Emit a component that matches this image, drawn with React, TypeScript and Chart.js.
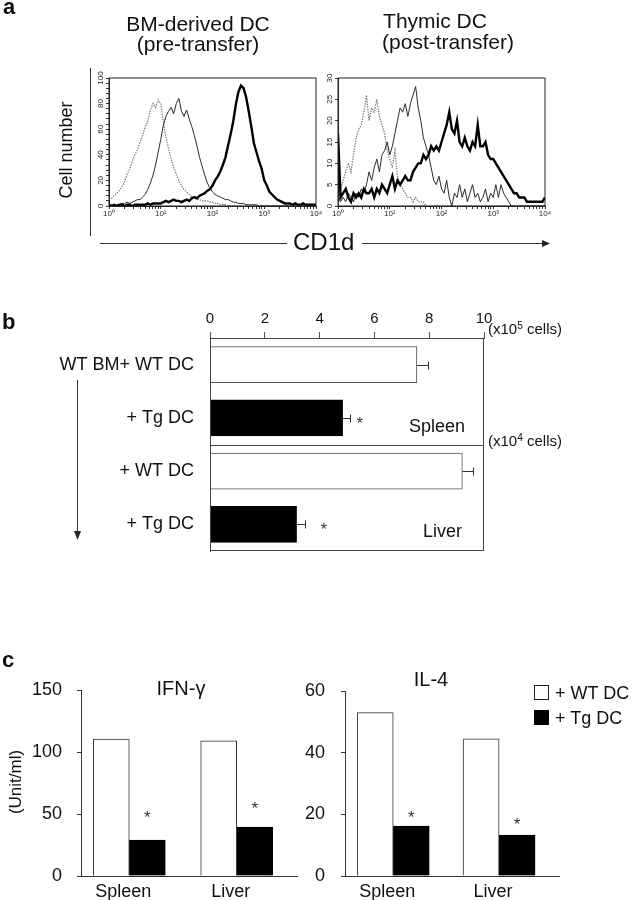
import React, { useEffect, useRef } from 'react';
import { Chart, registerables } from 'chart.js';

Chart.register(...registerables);

const FONT = '"Liberation Sans", Arial, Helvetica, sans-serif';
Chart.defaults.font.family = FONT;
Chart.defaults.color = '#111';

// ---------------- Panel a: CD1d histograms ----------------
const HIST_X = [0, 0.05, 0.1, 0.15, 0.2, 0.25, 0.3, 0.35, 0.4, 0.45, 0.5, 0.55, 0.6, 0.65, 0.7, 0.75, 0.8, 0.85, 0.9, 0.95,
  1, 1.05, 1.1, 1.15, 1.2, 1.25, 1.3, 1.35, 1.4, 1.45, 1.5, 1.55, 1.6, 1.65, 1.7, 1.75, 1.8, 1.85, 1.9, 1.95,
  2, 2.05, 2.1, 2.15, 2.2, 2.25, 2.3, 2.35, 2.4, 2.45, 2.5, 2.55, 2.6, 2.65, 2.7, 2.75, 2.8, 2.85, 2.9, 2.95,
  3, 3.05, 3.1, 3.15, 3.2, 3.25, 3.3, 3.35, 3.4, 3.45, 3.5, 3.55, 3.6, 3.65, 3.7, 3.75, 3.8, 3.85, 3.9, 3.95, 4];
const DECADE_LABELS = ['10\u2070', '10\u00b9', '10\u00b2', '10\u00b3', '10\u2074'];
const BM_Y_LABELS = [0, 20, 40, 60, 80, 100];
const TH_Y_LABELS = [0, 5, 10, 15, 20, 25, 30];

const BM_ISOTYPE = [5, 6, 8, 10, 12, 15, 19, 25, 29, 35,
  40, 44, 50, 55, 62, 66, 75, 80, 77, 83,
  80, 66, 54, 45, 37, 30, 25, 20, 16, 13,
  11, 9, 7, 6, 5, 5, 4, 4, 4, 3,
  3, 2, 2, 1, 1, 1, 0, 0, 0, 0,
  0, 0, 0, 0, 0, 0, 0, 0, 0, 0,
  0, 0, 0, 0, 0, 0, 0, 0, 0, 0,
  0, 0, 0, 0, 0, 0, 0, 0, 0, 0,
  0];
const BM_WT = [0, 1, 0, 1, 1, 2, 2, 3, 2, 3,
  4, 5, 5, 7, 9, 13, 18, 24, 32, 42,
  52, 63, 70, 74, 77, 72, 80, 84, 74, 70,
  75, 68, 62, 55, 47, 38, 31, 24, 18, 14,
  11, 9, 8, 7, 6, 5, 5, 4, 3, 3,
  2, 2, 2, 1, 1, 1, 1, 1, 0, 0,
  0, 0, 0, 0, 0, 0, 0, 0, 0, 0,
  0, 0, 0, 0, 0, 0, 0, 0, 0, 0,
  0];
const BM_TG = [1, 0, 1, 0, 1, 1, 0, 1, 1, 0,
  1, 1, 1, 1, 1, 2, 1, 2, 2, 2,
  2, 3, 4, 3, 4, 5, 4, 4, 3, 4,
  5, 4, 6, 7, 6, 8, 9, 10, 12, 13,
  16, 20, 23, 27, 32, 38, 47, 56, 66, 79,
  89, 94, 92, 85, 74, 62, 49, 42, 35, 29,
  20, 16, 11, 9, 7, 5, 4, 3, 2, 2,
  2, 1, 2, 1, 1, 2, 1, 1, 1, 1,
  1];

const TH_ISOTYPE = [0, 4, 6, 8, 10, 8, 12, 16, 18, 19,
  22, 26, 20, 23, 22, 25, 21, 19, 17, 13,
  11, 9, 13, 7, 5, 4, 3, 2, 2, 1,
  2, 1, 1, 1, 0, 0, 0, 0, 0, 0,
  0, 0, 0, 0, 0, 0, 0, 0, 0, 0,
  0, 0, 0, 0, 0, 0, 0, 0, 0, 0,
  0, 0, 0, 0, 0, 0, 0, 0, 0, 0,
  0, 0, 0, 0, 0, 0, 0, 0, 0, 0,
  0];
const TH_WT = [2, 1, 2, 1, 3, 2, 1, 3, 2, 4,
  3, 5, 8, 6, 9, 11, 8, 12, 13, 15,
  12, 14, 17, 20, 23, 22, 24, 21, 24, 26,
  28, 23, 20, 16, 14, 12, 9, 6, 5, 7,
  4, 3, 6, 2, 0, 3, 2, 5, 2, 4,
  1, 3, 5, 2, 3, 1, 2, 4, 1, 3,
  2, 5, 2, 5, 3, 2, 1, 0, 0, 0,
  0, 0, 0, 0, 0, 0, 0, 0, 0, 0,
  0];
const TH_TG = [17, 2, 3, 4, 2, 1, 3, 2, 3, 2,
  4, 3, 3, 4, 2, 4, 3, 5, 4, 3,
  5, 7, 4, 6, 5, 6, 7, 6, 6, 8,
  9, 10, 10, 12, 11, 12, 14, 13, 14, 13,
  15, 17, 19, 22, 18, 17, 20, 15, 14, 16,
  14, 13, 15, 14, 19, 14, 14, 15, 12, 11,
  11, 10, 9, 8, 7, 6, 5, 4, 3, 3,
  2, 2, 2, 1, 1, 1, 1, 1, 1, 1,
  2];

// ---------------- Panel b: cell numbers ----------------
const B_ROWS = ['WT BM+ WT DC', '+ Tg DC', '+ WT DC', '+ Tg DC'];
const B_GROUP = ['WT', 'Tg', 'WT', 'Tg'];
const B_VALUES = [7.55, 4.84, 9.21, 3.16];
const B_ERRORS = [0.4, 0.27, 0.39, 0.3];
const B_STARS: (number | null)[] = [null, 5.47, null, 4.16];
const B_TICKS = [0, 2, 4, 6, 8, 10];

// ---------------- Panel c: cytokines ----------------
const C_SITES = ['Spleen', 'Liver'];
const IFN_WT = [110.5, 109];
const IFN_TG = [29, 39.5];
const IFN_STARS = [51, 58];
const IFN_TICKS = [0, 50, 100, 150];
const IL4_WT = [53, 44.5];
const IL4_TG = [16.2, 13.3];
const IL4_STARS = [20.5, 18.1];
const IL4_TICKS = [0, 20, 40, 60];

// ---------------- helpers ----------------
const zeroPad = (s: any) => { s.paddingLeft = 0; s.paddingRight = 0; s.paddingTop = 0; s.paddingBottom = 0; };
const fixW = (w: number) => (s: any) => { s.width = w; zeroPad(s); };
const fixH = (h: number) => (s: any) => { s.height = h; zeroPad(s); };

const LOG_TICKS: number[] = [];
for (let d = 0; d < 4; d++) for (let k = 1; k < 10; k++) LOG_TICKS.push(d + Math.log10(k));
LOG_TICKS.push(4);

function drawStar(ctx: CanvasRenderingContext2D, x: number, y: number, size: number) {
  ctx.save();
  ctx.font = `${size}px ${FONT}`;
  ctx.fillStyle = '#333';
  ctx.textAlign = 'center';
  ctx.textBaseline = 'alphabetic';
  ctx.fillText('*', x, y + 0.573 * size);
  ctx.restore();
}

const facsPlugin = (labels: number[], offset: number) => ({
  id: 'facsFrame',
  afterDraw(chart: any) {
    const { ctx, chartArea: a, scales } = chart;
    ctx.save();
    ctx.strokeStyle = '#222';
    ctx.lineWidth = 1;
    ctx.strokeRect(a.left, a.top, a.right - a.left, a.bottom - a.top);
    ctx.font = `8px ${FONT}`;
    ctx.fillStyle = '#222';
    ctx.textAlign = 'center';
    ctx.textBaseline = 'middle';
    labels.forEach((v) => {
      const y = scales.y.getPixelForValue(v);
      ctx.save();
      ctx.translate(a.left - offset, y);
      ctx.rotate(-Math.PI / 2);
      ctx.fillText(String(v), 0, 0);
      ctx.restore();
    });
    ctx.restore();
  },
});

function facsConfig(iso: number[], wt: number[], tg: number[], yMax: number, yStep: number, yLabels: number[], yW: number, padR: number) {
  const mk = (s: number[]) => s.map((v, i) => ({ x: HIST_X[i], y: v }));
  return {
    type: 'line',
    data: {
      datasets: [
        { data: mk(tg), borderColor: '#000', borderWidth: 2.4, pointRadius: 0, tension: 0, fill: false },
        { data: mk(wt), borderColor: '#2a2a2a', borderWidth: 1, pointRadius: 0, tension: 0, fill: false },
        { data: mk(iso), borderColor: '#6a6a6a', borderWidth: 1.2, borderDash: [1.3, 1.3], pointRadius: 0, tension: 0, fill: false },
      ],
    },
    options: {
      responsive: false, animation: false, events: [],
      layout: { padding: { left: 0, top: 10, right: padR, bottom: 0 } },
      plugins: { legend: { display: false }, tooltip: { enabled: false } },
      scales: {
        x: {
          type: 'linear', min: 0, max: 4,
          afterBuildTicks: (s: any) => { s.ticks = LOG_TICKS.map((v) => ({ value: v })); },
          ticks: {
            autoSkip: false, maxRotation: 0, minRotation: 0, padding: 0,
            font: { family: FONT, size: 8 }, color: '#222',
            callback: (v: any) => (Number.isInteger(v) ? DECADE_LABELS[v] : ''),
          },
          grid: { drawOnChartArea: false, tickLength: 3, tickColor: '#333' },
          border: { color: '#222' },
          afterFit: fixH(22),
        },
        y: {
          type: 'linear', min: 0, max: yMax,
          ticks: { stepSize: yStep, display: false },
          grid: { drawOnChartArea: false, tickLength: 3, tickColor: '#333' },
          border: { color: '#222' },
          afterFit: fixW(yW),
        },
      },
    },
    plugins: [facsPlugin(yLabels, 8)],
  };
}

const panelBPlugin = {
  id: 'panelB',
  afterDatasetsDraw(chart: any) {
    const { ctx, chartArea: a, scales: { x, y } } = chart;
    ctx.save();
    ctx.strokeStyle = '#444';
    ctx.lineWidth = 1;
    ctx.strokeRect(a.left + 0.5, a.top + 0.5, a.right - a.left - 1, a.bottom - a.top - 1);
    const mid = Math.round((y.getPixelForValue(1) + y.getPixelForValue(2)) / 2) + 0.5;
    ctx.beginPath();
    ctx.moveTo(a.left, mid);
    ctx.lineTo(a.right, mid);
    ctx.stroke();
    ctx.strokeStyle = '#333';
    B_VALUES.forEach((v, i) => {
      const yc = Math.round(y.getPixelForValue(i)) + 0.5;
      const x0 = x.getPixelForValue(v);
      const x1 = Math.round(x.getPixelForValue(v + B_ERRORS[i])) + 0.5;
      ctx.beginPath();
      ctx.moveTo(x0, yc);
      ctx.lineTo(x1, yc);
      ctx.moveTo(x1, yc - 4);
      ctx.lineTo(x1, yc + 4);
      ctx.stroke();
      const s = B_STARS[i];
      if (s !== null) drawStar(ctx, x.getPixelForValue(s), yc + 1, 16);
    });
    ctx.restore();
  },
};

function panelBConfig() {
  return {
    type: 'bar',
    data: {
      labels: B_ROWS,
      datasets: [{
        data: B_VALUES,
        backgroundColor: B_GROUP.map((g) => (g === 'Tg' ? '#000' : '#fff')),
        borderColor: B_GROUP.map((g) => (g === 'Tg' ? '#000' : '#555')),
        borderWidth: 1,
        barThickness: 36,
      }],
    },
    options: {
      indexAxis: 'y',
      responsive: false, animation: false, events: [],
      layout: { padding: { left: 0, top: 0, right: 116, bottom: 9 } },
      plugins: { legend: { display: false }, tooltip: { enabled: false } },
      scales: {
        x: {
          type: 'linear', position: 'top', min: 0, max: 10,
          afterBuildTicks: (s: any) => { s.ticks = B_TICKS.map((v) => ({ value: v })); },
          ticks: { font: { family: FONT, size: 15 }, color: '#111', padding: 4, maxRotation: 0 },
          grid: { drawOnChartArea: false, tickLength: 6, tickColor: '#555' },
          border: { color: '#444' },
          afterFit: fixH(38),
        },
        y: {
          ticks: { font: { family: FONT, size: 18 }, color: '#111', padding: 16 },
          grid: { display: false, drawTicks: false },
          border: { color: '#444' },
          afterFit: fixW(210),
        },
      },
    },
    plugins: [panelBPlugin],
  };
}

const starPlugin = (stars: number[]) => ({
  id: 'stars',
  afterDatasetsDraw(chart: any) {
    const meta = chart.getDatasetMeta(1);
    const yS = chart.scales.y;
    stars.forEach((s, i) => {
      const el = meta.data[i];
      if (el) drawStar(chart.ctx, el.x, yS.getPixelForValue(s), 17);
    });
  },
});

function cytokineConfig(wt: number[], tg: number[], stars: number[], ticks: number[], yMax: number,
  xMin: number, xMax: number, yW: number, padT: number, padR: number, labelPad: number) {
  return {
    type: 'bar',
    data: {
      datasets: [
        { label: '+ WT DC', data: wt.map((v, i) => ({ x: i + 1, y: v })), backgroundColor: '#fff', borderColor: '#333', borderWidth: 1, barThickness: 36 },
        { label: '+ Tg DC', data: tg.map((v, i) => ({ x: i + 1, y: v })), backgroundColor: '#000', borderColor: '#000', borderWidth: 1, barThickness: 36 },
      ],
    },
    options: {
      responsive: false, animation: false, events: [],
      layout: { padding: { left: 0, top: padT, right: padR, bottom: 0 } },
      plugins: { legend: { display: false }, tooltip: { enabled: false } },
      scales: {
        x: {
          type: 'linear', min: xMin, max: xMax, offset: false,
          afterDataLimits: (s: any) => { s.min = xMin; s.max = xMax; },
          afterBuildTicks: (s: any) => { s.min = xMin; s.max = xMax; s.ticks = C_SITES.map((_, i) => ({ value: i + 1 })); },
          ticks: {
            autoSkip: false, maxRotation: 0, font: { family: FONT, size: 18 }, color: '#111', padding: 5, labelOffset: -6,
            callback: (v: any) => C_SITES[v - 1] ?? '',
          },
          grid: { display: false, drawTicks: false, offset: false },
          border: { color: '#333' },
          afterFit: fixH(24),
        },
        y: {
          type: 'linear', min: 0, max: yMax,
          afterBuildTicks: (s: any) => { s.ticks = ticks.map((v) => ({ value: v })); },
          ticks: { font: { family: FONT, size: 18 }, color: '#111', padding: labelPad },
          grid: { drawOnChartArea: false, tickLength: 4, tickColor: '#333' },
          border: { color: '#333' },
          afterFit: fixW(yW),
        },
      },
    },
    plugins: [starPlugin(stars)],
  };
}

function ChartBox({ left, top, width, height, make }: { left: number; top: number; width: number; height: number; make: () => any }) {
  const ref = useRef<HTMLCanvasElement | null>(null);
  useEffect(() => {
    const chart = new Chart(ref.current as HTMLCanvasElement, make());
    return () => chart.destroy();
  }, []);
  return (
    <div style={{ position: 'absolute', left, top, width, height }}>
      <canvas ref={ref} width={width} height={height} style={{ width, height }} />
    </div>
  );
}

type TxtProps = { x: number; y: number; size: number; children: React.ReactNode; align?: 'left' | 'center' | 'right'; bold?: boolean; rotate?: boolean };
function Txt({ x, y, size, children, align = 'left', bold, rotate }: TxtProps) {
  const base: React.CSSProperties = {
    position: 'absolute', fontFamily: FONT, fontSize: size, lineHeight: `${size}px`, whiteSpace: 'nowrap',
    color: '#111', fontWeight: bold ? 700 : 400,
  };
  if (rotate) {
    return <div style={{ ...base, left: x, top: y, transform: 'translate(-50%, -50%) rotate(-90deg)' }}>{children}</div>;
  }
  const tx = align === 'center' ? 'translateX(-50%)' : align === 'right' ? 'translateX(-100%)' : 'none';
  return <div style={{ ...base, left: x, top: y - 0.8465 * size, transform: tx }}>{children}</div>;
}

const sup = (t: string) => <span style={{ fontSize: '0.68em', verticalAlign: '0.45em', lineHeight: 0 }}>{t}</span>;

export default function App() {
  return (
    <div style={{ position: 'absolute', left: 0, top: 0, width: 636, height: 900, background: '#fff', overflow: 'hidden' }}>
      {/* Panel a */}
      <ChartBox left={92} top={68} width={236} height={160}
        make={() => facsConfig(BM_ISOTYPE, BM_WT, BM_TG, 100, 4, BM_Y_LABELS, 17, 12)} />
      <ChartBox left={322} top={68} width={236} height={160}
        make={() => facsConfig(TH_ISOTYPE, TH_WT, TH_TG, 30, 5, TH_Y_LABELS, 16, 13)} />

      {/* Panel b */}
      <ChartBox left={0} top={300} width={600} height={260} make={panelBConfig} />

      {/* Panel c */}
      <ChartBox left={0} top={660} width={310} height={240}
        make={() => cytokineConfig(IFN_WT, IFN_TG, IFN_STARS, IFN_TICKS, 150, 0.5503, 2.5615, 81, 30, 13, 15)} />
      <ChartBox left={300} top={660} width={336} height={240}
        make={() => cytokineConfig(IL4_WT, IL4_TG, IL4_STARS, IL4_TICKS, 60, 0.5443, 2.566, 45, 31, 77, 16)} />

      <svg width={636} height={900} style={{ position: 'absolute', left: 0, top: 0, pointerEvents: 'none' }}>
        <g stroke="#333" strokeWidth={1} fill="none">
          <line x1={90.5} y1={68} x2={90.5} y2={236} />
          <line x1={100} y1={243.5} x2={287} y2={243.5} />
          <line x1={362} y1={243.5} x2={543} y2={243.5} />
          <line x1={77.5} y1={380} x2={77.5} y2={532} />
        </g>
        <polygon points="542,240 550,243.5 542,247" fill="#222" />
        <polygon points="74,531 81,531 77.5,540" fill="#222" />
      </svg>

      <Txt x={3} y={15} size={22} bold>a</Txt>
      <Txt x={198} y={31} size={21} align="center">BM-derived DC</Txt>
      <Txt x={198} y={51} size={21} align="center">(pre-transfer)</Txt>
      <Txt x={435} y={28} size={21} align="center">Thymic DC</Txt>
      <Txt x={448} y={49} size={21} align="center">(post-transfer)</Txt>
      <Txt x={66} y={150} size={18} rotate>Cell number</Txt>
      <Txt x={293} y={250} size={24}>CD1d</Txt>

      <Txt x={2} y={330} size={22} bold>b</Txt>
      <Txt x={488} y={334} size={15}>(x10{sup('5')} cells)</Txt>
      <Txt x={488} y={446} size={15}>(x10{sup('4')} cells)</Txt>
      <Txt x={465} y={432} size={18} align="right">Spleen</Txt>
      <Txt x={462} y={537} size={18} align="right">Liver</Txt>

      <Txt x={2} y={668} size={22} bold>c</Txt>
      <Txt x={181} y={695} size={20} align="center">IFN-γ</Txt>
      <Txt x={431} y={686} size={20} align="center">IL-4</Txt>
      <Txt x={15} y={782} size={17} rotate>(Unit/ml)</Txt>

      <div style={{ position: 'absolute', left: 534, top: 685, width: 13, height: 13, border: '1px solid #222', background: '#fff' }} />
      <Txt x={555} y={699} size={18}>+ WT DC</Txt>
      <div style={{ position: 'absolute', left: 534, top: 710, width: 15, height: 15, background: '#000' }} />
      <Txt x={555} y={724} size={18}>+ Tg DC</Txt>
    </div>
  );
}
